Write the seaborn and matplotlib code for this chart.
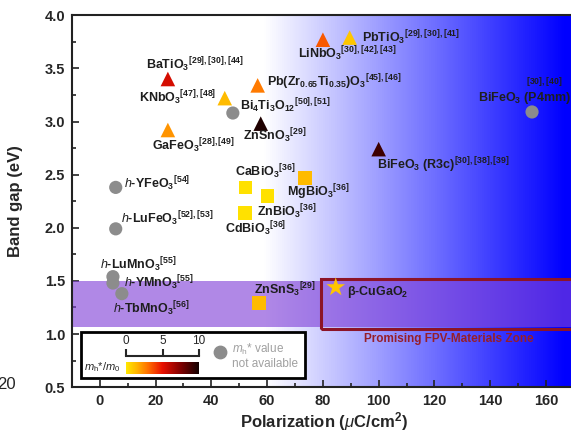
import numpy as np
import pandas as pd
import matplotlib
matplotlib.use("Agg")
import matplotlib.pyplot as plt
import seaborn as sns
from matplotlib.colors import LinearSegmentedColormap
from matplotlib.patches import Rectangle

# ---- data ----
materials = ["BaTiO3", "KNbO3", "GaFeO3", "PZT", "ZnSnO3", "LiNbO3", "PbTiO3", "BiFeO3_R3c",
             "CaBiO3", "ZnBiO3", "CdBiO3", "MgBiO3", "ZnSnS3", "CuGaO2",
             "Bi4Ti3O12", "BiFeO3_P4mm", "h-YFeO3", "h-LuFeO3", "h-LuMnO3", "h-YMnO3", "h-TbMnO3"]
polarization = [24.4, 44.8, 24.4, 56.6, 57.7, 80.0, 89.6, 100.0,
                52.3, 60.2, 52.0, 73.5, 57.0, 84.6,
                47.7, 155.0, 5.7, 5.7, 4.7, 4.7, 7.9]
band_gap = [3.40, 3.22, 2.92, 3.34, 2.98, 3.77, 3.79, 2.74,
            2.38, 2.30, 2.14, 2.47, 1.29, 1.44,
            3.08, 3.09, 2.38, 1.99, 1.54, 1.48, 1.38]
# hole effective mass ratio m_h*/m_0 (nan = not available)
mass_ratio = [5.5, 1.3, 2.2, 2.8, 9.7, 3.5, 1.0, 9.0,
              0.2, 0.2, 0.2, 1.3, 1.3, 1.0,
              np.nan, np.nan, np.nan, np.nan, np.nan, np.nan, np.nan]
kind = ["tri"] * 8 + ["sq"] * 5 + ["star"] + ["circ"] * 7
labels = [r"BaTiO$_3$$^{[29],[30],[44]}$", r"KNbO$_3$$^{[47],[48]}$", r"GaFeO$_3$$^{[28],[49]}$",
          r"Pb(Zr$_{0.65}$Ti$_{0.35}$)O$_3$$^{[45],[46]}$", r"ZnSnO$_3$$^{[29]}$",
          r"LiNbO$_3$$^{[30],[42],[43]}$", r"PbTiO$_3$$^{[29],[30],[41]}$",
          r"BiFeO$_3$ (R3c)$^{[30],[38],[39]}$",
          r"CaBiO$_3$$^{[36]}$", r"ZnBiO$_3$$^{[36]}$", r"CdBiO$_3$$^{[36]}$", r"MgBiO$_3$$^{[36]}$",
          r"ZnSnS$_3$$^{[29]}$", r"β-CuGaO$_2$",
          r"Bi$_4$Ti$_3$O$_{12}$$^{[50],[51]}$", r"BiFeO$_3$ (P4mm)",
          r"$\mathit{h}$-YFeO$_3$$^{[54]}$", r"$\mathit{h}$-LuFeO$_3$$^{[52],[53]}$",
          r"$\mathit{h}$-LuMnO$_3$$^{[55]}$", r"$\mathit{h}$-YMnO$_3$$^{[55]}$",
          r"$\mathit{h}$-TbMnO$_3$$^{[56]}$"]

# label placement (offset in points, alignment)
label_pos = {
    "BaTiO3": (-16, 10, "left"), "KNbO3": (-6, 0, "right"), "GaFeO3": (-11.5, -11, "left"),
    "PZT": (6.5, 2, "left"), "ZnSnO3": (-13, -9, "left"), "LiNbO3": (-18, -10, "left"),
    "PbTiO3": (9, 0, "left"), "BiFeO3_R3c": (-1.5, -11.5, "left"),
    "CaBiO3": (-8, 11, "left"), "ZnBiO3": (-8, -11.5, "left"), "CdBiO3": (-14, -11, "left"),
    "MgBiO3": (-13, -10, "left"), "ZnSnS3": (-3.5, 9.5, "left"), "CuGaO2": (8, -3.5, "left"),
    "Bi4Ti3O12": (5, 5, "left"), "BiFeO3_P4mm": (-39, 10, "left"),
    "h-YFeO3": (6, 3, "left"), "h-LuFeO3": (3.5, 7, "left"), "h-LuMnO3": (-9, 9, "left"),
    "h-YMnO3": (8, 0, "left"), "h-TbMnO3": (-6.5, -11, "left"),
}

df = pd.DataFrame({"material": materials, "P": polarization, "Eg": band_gap,
                   "mh": mass_ratio, "kind": kind, "label": labels})

sns.set_style("ticks")
plt.rcParams["font.family"] = ["Liberation Sans", "DejaVu Sans"]
plt.rcParams["mathtext.fontset"] = "custom"
plt.rcParams["mathtext.rm"] = "Liberation Sans"
plt.rcParams["mathtext.bf"] = "Liberation Sans:bold"
plt.rcParams["mathtext.it"] = "Liberation Sans:italic"
plt.rcParams["mathtext.default"] = "bf"

mass_cmap = LinearSegmentedColormap.from_list(
    "mass", [(0, "#FFE800"), (0.15, "#FFB400"), (0.3, "#FF7000"), (0.5, "#E81000"),
             (0.75, "#800000"), (1.0, "#120000")])
bg_cmap = LinearSegmentedColormap.from_list(
    "bg", [(0, "white"), (69 / 180, "white"), (177 / 180, "#0000FF"), (1, "#0000FF")])

fig = plt.figure(figsize=(5.71, 4.36), dpi=100)
ax = fig.add_axes([0.126, 0.112, 0.879, 0.853])

# background gradient and the promising zone
ax.imshow(np.linspace(0, 1, 512)[None, :], extent=(-10, 170, 0.5, 4.0), aspect="auto",
          cmap=bg_cmap, zorder=0)
ax.axhspan(1.065, 1.495, color="#8040D8", alpha=0.62, lw=0, zorder=1)
ax.add_patch(Rectangle((79.2, 1.05), 100, 0.47, fill=False, ec="#8C1428", lw=2.2, zorder=2))
ax.text(125, 0.955, "Promising FPV-Materials Zone", color="#961E2A", fontsize=8.5,
        fontweight="bold", ha="center", va="center", zorder=3)

marker_of = {"tri": "^", "sq": "s", "star": "*", "circ": "o"}
size_of = {"tri": 110, "sq": 95, "star": 200, "circ": 90}
for k in ["tri", "sq", "star"]:
    sub = df[df["kind"] == k]
    sns.scatterplot(data=sub, x="P", y="Eg", hue="mh", palette=mass_cmap, hue_norm=(0, 10),
                    marker=marker_of[k], s=size_of[k], edgecolor="none", legend=False,
                    ax=ax, zorder=4)
gray = df[df["kind"] == "circ"]
sns.scatterplot(data=gray, x="P", y="Eg", color="#8C8C8C", marker="o", s=size_of["circ"],
                edgecolor="none", legend=False, ax=ax, zorder=4)

for _, row in df.iterrows():
    dx, dy, ha = label_pos[row["material"]]
    ax.annotate(row["label"], (row["P"], row["Eg"]), xytext=(dx, dy), textcoords="offset points",
                ha=ha, va="center", fontsize=9, fontweight="bold", color="#1E1E1E", zorder=5)
ax.annotate(r"$^{[30],[40]}$", (155, 3.09), xytext=(-4, 20), textcoords="offset points",
            ha="left", va="center", fontsize=9, color="#1E1E1E", zorder=5)

# legend box
ax.add_patch(Rectangle((-6.8, 0.585), 80.3, 0.435, fc="white", ec="black", lw=2, zorder=6))
ax.scatter([0.295], [0.0955], transform=ax.transAxes, s=80, color="#8C8C8C", zorder=7)
ax.text(47.3, 0.855, r"$\mathregular{\mathit{m}_h}$* value", color="#A0A0A0", fontsize=8.5,
        va="center", zorder=7)
ax.text(47.3, 0.715, "not available", color="#A0A0A0", fontsize=8.5, va="center", zorder=7)
ax.text(-5.5, 0.69, r"$\mathregular{\mathit{m}_h}$*/$\mathregular{\mathit{m}_0}$", fontsize=8,
        va="center", zorder=7)

cax = fig.add_axes([126 / 571, (436 - 374) / 436, 73 / 571, 12 / 436])
cax.imshow(np.linspace(0, 10, 256)[None, :], extent=(0, 10, 0, 1), aspect="auto",
           cmap=mass_cmap, vmin=0, vmax=10)
cax.set_zorder(10)
for s in ["left", "right", "bottom"]:
    cax.spines[s].set_visible(False)
cax.spines["top"].set_position(("outward", 4))
cax.spines["top"].set_linewidth(1.5)
cax.xaxis.tick_top()
cax.set_xticks([0, 5, 10])
cax.set_yticks([])
cax.tick_params(axis="x", direction="out", length=5, width=1.5, pad=2, labelsize=8.5)

# axes styling
ax.set_xlim(-10, 170)
ax.set_ylim(0.5, 4.0)
ax.set_xticks(np.arange(0, 161, 20))
ax.set_xticks(np.arange(-10, 171, 10), minor=True)
ax.set_yticks(np.arange(0.5, 4.01, 0.5))
ax.set_yticks(np.arange(0.5, 4.01, 0.25), minor=True)
ax.tick_params(which="both", direction="in", top=False, right=False, width=1.2, color="#222222")
ax.tick_params(which="major", length=5, labelsize=10.5, pad=5)
ax.tick_params(which="minor", length=3)
for t in ax.get_xticklabels() + ax.get_yticklabels():
    t.set_fontweight("bold")
for s in ax.spines.values():
    s.set_linewidth(1.5)
    s.set_color("#222222")
ax.spines["right"].set_visible(False)
ax.set_xlabel(r"Polarization ($\mathit{\mu}$C/cm$^2$)", fontsize=12, fontweight="bold")
ax.set_ylabel("Band gap (eV)", fontsize=12, fontweight="bold")
ax.xaxis.set_label_coords(0.502, -0.062)
ax.yaxis.set_label_coords(-0.098, 0.5)

fig.text(-0.005, 0.117, "20", fontsize=12, va="center", ha="left")

fig.savefig("out.png", dpi=100)
